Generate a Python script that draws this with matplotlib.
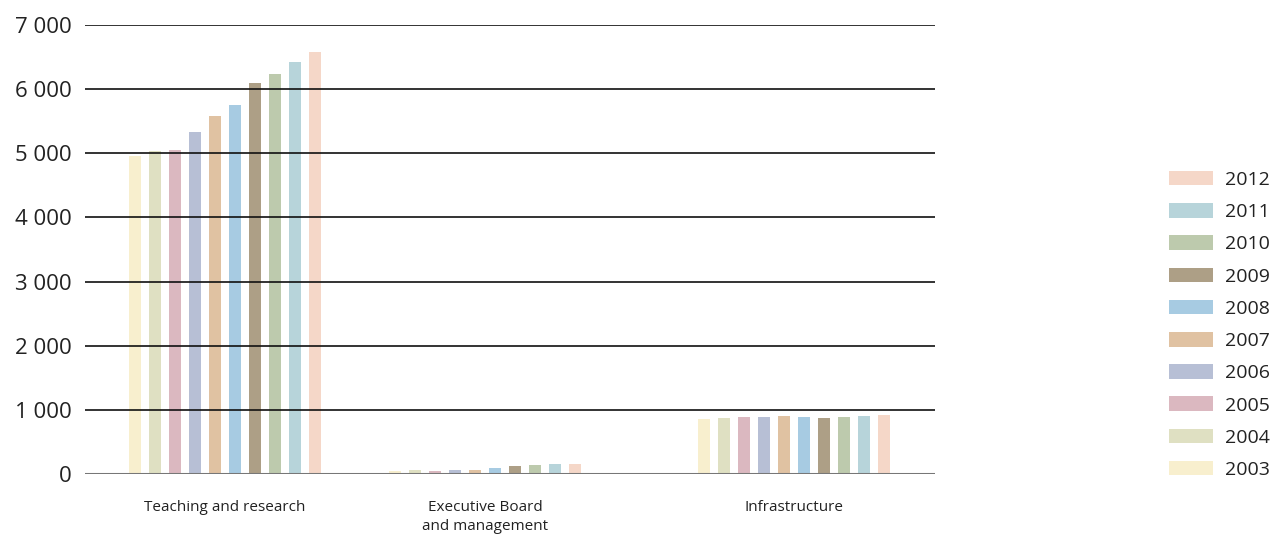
import matplotlib
matplotlib.use("Agg")
import matplotlib.pyplot as plt
from matplotlib.patches import Patch

plt.rcParams['font.family'] = ['Open Sans', 'DejaVu Sans']

categories = ["Teaching and research", "Executive Board\nand management", "Infrastructure"]
years = ["2003", "2004", "2005", "2006", "2007", "2008", "2009", "2010", "2011", "2012"]
teaching = [4960, 5035, 5050, 5330, 5580, 5755, 6095, 6235, 6425, 6580]
executive = [45, 60, 50, 65, 65, 95, 125, 140, 155, 160]
infrastructure = [855, 875, 890, 890, 905, 890, 875, 890, 905, 920]
colors = ["#f8efce", "#dfe0c2", "#dbb8c0", "#b7bfd5", "#e0c2a2",
          "#a7cbe2", "#ad9f86", "#bdcaad", "#b7d4da", "#f5d7c8"]
yticks = [0, 1000, 2000, 3000, 4000, 5000, 6000, 7000]
ytick_labels = ["0", "1 000", "2 000", "3 000", "4 000", "5 000", "6 000", "7 000"]

# group centres in bar-step units (one step per year)
group_centres = [7.0, 20.0, 35.45]
values = [teaching, executive, infrastructure]

fig = plt.figure(figsize=(12.73, 5.35), dpi=100)
ax = fig.add_axes([85 / 1273, 1 - 474 / 535, 850 / 1273, (474 - 25) / 535])

n = len(years)
for yi in range(n):
    xs = [c + (yi - (n - 1) / 2) for c in group_centres]
    hs = [v[yi] for v in values]
    ax.bar(xs, hs, width=0.6, color=colors[yi], zorder=1)

for t in yticks[1:]:
    ax.axhline(t, color="#111111", lw=1.2, zorder=2)
ax.axhline(0, color="#777777", lw=2.2, zorder=3)

ax.set_xlim(0, 42.5)
ax.set_ylim(0, 7000)
for s in ax.spines.values():
    s.set_visible(False)
ax.set_yticks(yticks)
ax.set_yticklabels(ytick_labels, fontsize=16, color="#222222")
ax.tick_params(axis="y", length=0, pad=9.5)
ax.set_xticks(group_centres)
ax.set_xticklabels(categories, fontsize=11, color="#222222", linespacing=1.35, va="top")
ax.tick_params(axis="x", length=0, pad=18.5)

handles = [Patch(facecolor=colors[i], edgecolor="none", label=years[i]) for i in range(n)][::-1]
fig.legend(handles=handles, loc="upper left", bbox_to_anchor=(1169 / 1273, 1 - 171 / 535),
           frameon=False, fontsize=14, handlelength=2.27, handleheight=0.77,
           handletextpad=0.62, labelspacing=0.73, borderpad=0, borderaxespad=0,
           labelcolor="#222222")

fig.savefig("out.png", dpi=100)
